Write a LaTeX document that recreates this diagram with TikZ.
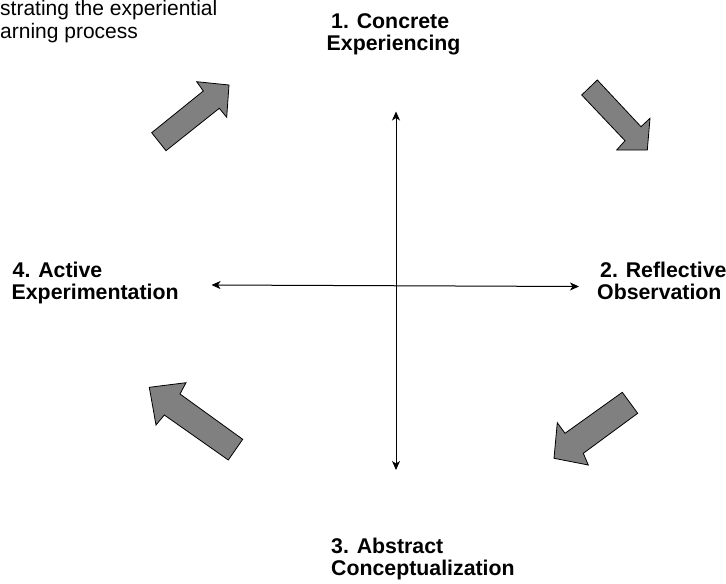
\documentclass[tikz,border=0pt]{standalone}
\usepackage{fontspec}
\setmainfont{Liberation Sans}
\usetikzlibrary{arrows.meta}
\definecolor{blockgray}{HTML}{808080}
\tikzset{
  label/.style={font=\fontsize{21.3}{25}\selectfont\bfseries, inner sep=0pt, anchor=base west},
  note/.style={font=\fontsize{21}{25}\selectfont, inner sep=0pt, anchor=base west},
  blockarrow/.style={fill=blockgray, draw=black, line width=0.8pt, line join=miter},
  axis/.style={draw=black, line width=1pt, {Stealth[length=9pt,width=8pt,inset=2.5pt]}-{Stealth[length=9pt,width=8pt,inset=2.5pt]}}
}
\begin{document}
\begin{tikzpicture}[x=1pt,y=-1pt]
  \useasboundingbox (0,0) rectangle (726,584);
  \fill[white] (0,0) rectangle (726,584);

  % caption in the upper left corner
  \node[note] (cap1) at (0,15.5) {strating the experiential};
  \node[note] (cap2) at (0,38.5) {arning process};

  % the four stages
  \node[label] (c1) at (331,28) {1. Concrete};
  \node[label] (c2) at (326.5,50) {Experiencing};
  \node[label] (r1) at (600,277) {2. Reflective};
  \node[label] (r2) at (597,299) {Observation};
  \node[label] (a1) at (331,553) {3. Abstract};
  \node[label] (a2) at (331,575) {Conceptualization};
  \node[label] (e1) at (12.5,277) {4. Active};
  \node[label] (e2) at (11.5,299) {Experimentation};

  % crossing axes
  \coordinate (vtop) at (396,111.5);
  \coordinate (vbot) at (396,470);
  \coordinate (hleft) at (211.5,285);
  \coordinate (hright) at (579,286.5);
  \draw[axis] (vbot) -- (vtop);
  \draw[axis] (hleft) -- (hright);

  % block arrows of the cycle
  \draw[blockarrow] (151.7,132.7) -- (203.3,91) -- (196.7,81.7) -- (229,85)
     -- (226.7,117.3) -- (219.3,108.3) -- (166,150.7) -- cycle;
  \draw[blockarrow] (597.3,80) -- (641,126.7) -- (650,118.3) -- (647.3,150)
     -- (616.7,150) -- (625,140.7) -- (581.7,95) -- cycle;
  \draw[blockarrow] (622.3,392.3) -- (637.7,413.3) -- (583.3,453.3) -- (588.3,465)
     -- (554,458.3) -- (557.3,422.7) -- (565,433.3) -- cycle;
  \draw[blockarrow] (242.7,439.3) -- (228.3,460) -- (164.3,415) -- (156,425)
     -- (149.3,387.3) -- (186,382.7) -- (180,394) -- cycle;
\end{tikzpicture}
\end{document}
